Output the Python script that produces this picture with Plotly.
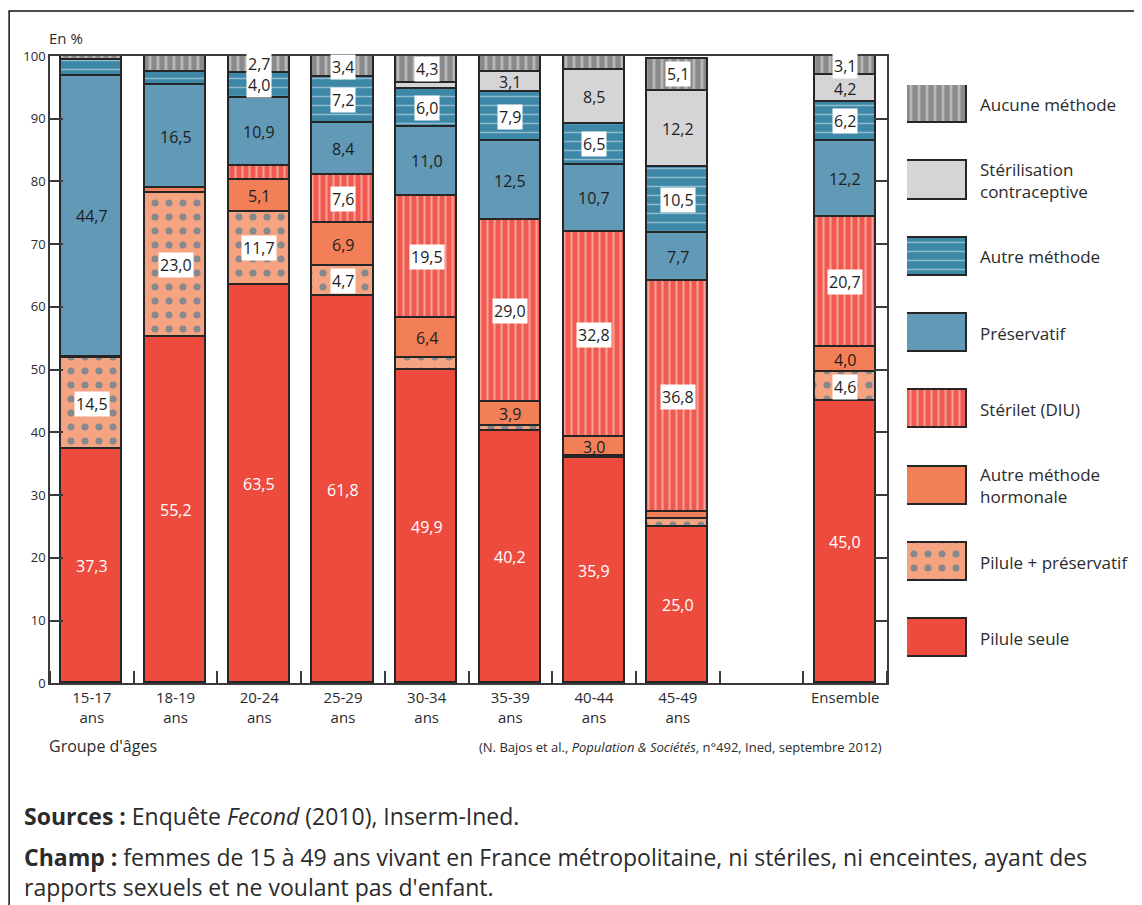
import plotly.graph_objects as go

# groupes d'âges (Ensemble séparé par un emplacement vide)
categories = ["15-17<br>ans", "18-19<br>ans", "20-24<br>ans", "25-29<br>ans", "30-34<br>ans",
              "35-39<br>ans", "40-44<br>ans", "45-49<br>ans", "Ensemble"]
x_pos = [0, 1, 2, 3, 4, 5, 6, 7, 9]

# valeurs en %, de bas en haut de chaque barre
pilule_seule = [37.3, 55.2, 63.5, 61.8, 49.9, 40.2, 35.9, 25.0, 45.0]
pilule_preservatif = [14.5, 23.0, 11.7, 4.7, 1.9, 0.8, 0.3, 1.2, 4.6]
autre_hormonale = [0.3, 0.7, 5.1, 6.9, 6.4, 3.9, 3.0, 1.1, 4.0]
sterilet = [0.0, 0.0, 2.1, 7.6, 19.5, 29.0, 32.8, 36.8, 20.7]
preservatif = [44.7, 16.5, 10.9, 8.4, 11.0, 12.5, 10.7, 7.7, 12.2]
autre_methode = [2.5, 2.0, 4.0, 7.2, 6.0, 7.9, 6.5, 10.5, 6.2]
sterilisation = [0.0, 0.0, 0.0, 0.0, 1.0, 3.1, 8.5, 12.2, 4.2]
aucune = [0.7, 2.6, 2.7, 3.4, 4.3, 2.6, 2.3, 5.1, 3.1]

series = [
    ("Pilule seule", pilule_seule),
    ("Pilule + préservatif", pilule_preservatif),
    ("Autre méthode<br>hormonale", autre_hormonale),
    ("Stérilet (DIU)", sterilet),
    ("Préservatif", preservatif),
    ("Autre méthode", autre_methode),
    ("Stérilisation<br>contraceptive", sterilisation),
    ("Aucune méthode", aucune),
]

# style: couleur de fond, motif, couleur du motif, style d'étiquette
styles = [
    dict(bg="#ee4b3f", shape="", fg=None, size=8, sol=0.3, label="white"),
    dict(bg="#f6a381", shape=".", fg="#0f6f98", size=14, sol=0.2, label="box"),
    dict(bg="#f27f57", shape="", fg=None, size=8, sol=0.3, label="plain"),
    dict(bg="#f05a4e", shape="|", fg="#ffe6e2", size=7, sol=0.3, label="box"),
    dict(bg="#6199b6", shape="", fg=None, size=8, sol=0.3, label="plain"),
    dict(bg="#3d87a7", shape="-", fg="#eaf4f8", size=9, sol=0.16, label="box"),
    dict(bg="#d5d5d7", shape="", fg=None, size=8, sol=0.3, label="plain"),
    dict(bg="#8a8a8a", shape="|", fg="#e4e4e4", size=8, sol=0.35, label="box"),
]

# calage page -> figure (marges de la page)
OFF_X, OFF_Y, SY = 8, 16, 0.981
W, H = 1126, 905
FONT = "Open Sans, Noto Sans, sans-serif"
TXT = "#2b2b2b"


def px_x(p):
    return (p - OFF_X) / W


def px_y(p):
    return 1 - ((p - OFF_Y) / SY) / H


def marker_for(st):
    m = dict(color=st["bg"], line=dict(color="#262626", width=1.8))
    if st["shape"]:
        m["pattern"] = dict(shape=st["shape"], fgcolor=st["fg"], bgcolor=st["bg"],
                            size=st["size"], solidity=st["sol"], fillmode="overlay")
    return m


fig = go.Figure()

for (name, vals), st in zip(series, styles):
    fig.add_trace(go.Bar(x=x_pos, y=vals, name=name, width=0.73,
                         marker=marker_for(st), showlegend=False, hoverinfo="skip"))

# étiquettes des segments
annotations = []
bottoms = [0.0] * len(x_pos)
for (name, vals), st in zip(series, styles):
    for i, v in enumerate(vals):
        if v >= 2.7:
            txt = f"{v:.1f}".replace(".", ",")
            a = dict(x=x_pos[i], y=bottoms[i] + v / 2, xref="x", yref="y", text=txt,
                     showarrow=False, font=dict(family=FONT, size=16,
                                                color="white" if st["label"] == "white" else "#1e1e1e"))
            if st["label"] == "box":
                a.update(bgcolor="white", borderpad=1)
            annotations.append(a)
        bottoms[i] += v

# légende dessinée à part (grands carrés à motif)
n = len(series)
for k, ((name, vals), st) in enumerate(reversed(list(zip(series, styles)))):
    fig.add_trace(go.Bar(x=[0], y=[0.5], base=[k - 0.25], width=[1], xaxis="x2", yaxis="y2",
                         marker=marker_for(st), showlegend=False, hoverinfo="skip"))
    annotations.append(dict(x=px_x(978), y=k, xref="paper", yref="y2", text=name,
                            showarrow=False, xanchor="left", yanchor="middle", align="left",
                            font=dict(family=FONT, size=17, color=TXT)))

annotations += [
    dict(x=px_x(47), y=px_y(37), xref="paper", yref="paper", text="En %", showarrow=False,
         xanchor="left", yanchor="middle", font=dict(family=FONT, size=15, color=TXT)),
    dict(x=px_x(47), y=px_y(746), xref="paper", yref="paper", text="Groupe d'âges", showarrow=False,
         xanchor="left", yanchor="middle", font=dict(family=FONT, size=16, color=TXT)),
    dict(x=px_x(884), y=px_y(747), xref="paper", yref="paper",
         text="(N. Bajos et al., <i>Population & Sociétés</i>, n°492, Ined, septembre 2012)",
         showarrow=False, xanchor="right", yanchor="middle", font=dict(family=FONT, size=13, color=TXT)),
    dict(x=px_x(22), y=px_y(816), xref="paper", yref="paper",
         text="<b>Sources :</b> Enquête <i>Fecond</i> (2010), Inserm-Ined.",
         showarrow=False, xanchor="left", yanchor="middle", font=dict(family=FONT, size=23, color=TXT)),
    dict(x=px_x(22), y=px_y(872), xref="paper", yref="paper",
         text="<b>Champ :</b> femmes de 15 à 49 ans vivant en France métropolitaine, ni stériles, ni enceintes, ayant des"
              "<br>rapports sexuels et ne voulant pas d'enfant.",
         showarrow=False, xanchor="left", yanchor="middle", align="left",
         font=dict(family=FONT, size=23, color=TXT)),
]

axis_col = "#3a3a3a"
fig.update_layout(
    width=W, height=H,
    margin=dict(l=0, r=0, t=0, b=0),
    paper_bgcolor="white", plot_bgcolor="white",
    barmode="stack", bargap=0,
    font=dict(family=FONT, color=TXT),
    xaxis=dict(domain=[px_x(50), px_x(887)], range=[-0.5, 9.5], tickmode="array",
               tickvals=x_pos, ticktext=categories, ticks="", showgrid=False, zeroline=False,
               showline=True, mirror=True, linecolor=axis_col, linewidth=1.5,
               tickfont=dict(family=FONT, size=15, color=TXT),
               minor=dict(tickmode="linear", tick0=0.5, dtick=1, ticks="inside",
                          ticklen=13, tickcolor=axis_col, tickwidth=1.5, showgrid=False)),
    yaxis=dict(domain=[px_y(683), px_y(55)], range=[0, 100], dtick=10, ticks="inside",
               ticklen=13, tickwidth=1.5, tickcolor=axis_col, showgrid=False, zeroline=False,
               showline=True, linecolor=axis_col, linewidth=1.5,
               tickfont=dict(family=FONT, size=13, color=TXT)),
    yaxis3=dict(overlaying="y", side="right", range=[0, 100], dtick=10, ticks="inside",
                ticklen=13, tickwidth=1.5, tickcolor=axis_col, showticklabels=False,
                showgrid=False, zeroline=False, showline=True, linecolor=axis_col, linewidth=1.5),
    xaxis2=dict(domain=[px_x(907), px_x(967)], range=[-0.5, 0.5], visible=False, anchor="y2"),
    yaxis2=dict(domain=[px_y(657), px_y(84)], range=[n - 0.75, -0.25], visible=False, anchor="x2"),
    annotations=annotations,
    shapes=[dict(type="rect", xref="paper", yref="paper", x0=0.001, x1=1.02, y0=-0.02, y1=px_y(10),
                 line=dict(color="#111", width=1.5))],
)

# trace invisible pour afficher l'axe droit
fig.add_trace(go.Scatter(x=[None], y=[None], yaxis="y3", showlegend=False, hoverinfo="skip"))

fig.write_html("out.html")
